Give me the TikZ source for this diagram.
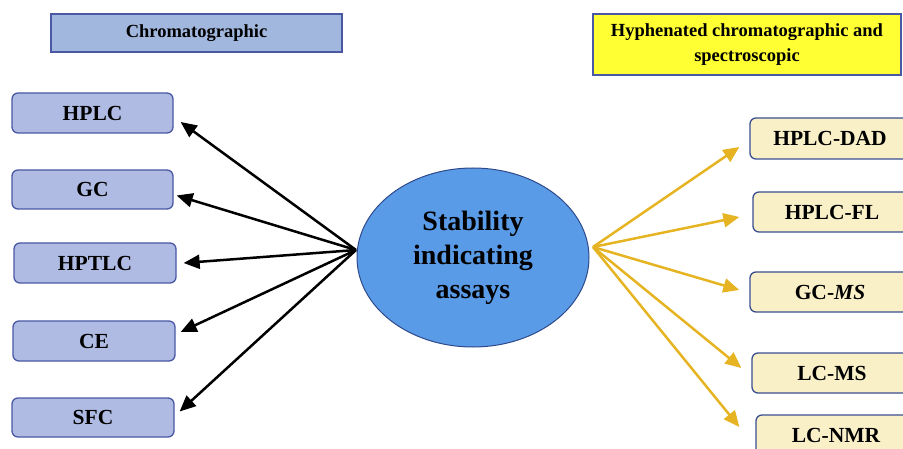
\documentclass[tikz,border=0pt]{standalone}
\usepackage{fontspec}
\setmainfont{Liberation Serif}
\usetikzlibrary{arrows.meta,shapes.geometric}
\definecolor{lbfill}{HTML}{AFBBE3}
\definecolor{hdfill}{HTML}{A2B7DE}
\definecolor{lbdraw}{HTML}{4A58A4}
\definecolor{rbfill}{HTML}{FAF0C8}
\definecolor{rbdraw}{HTML}{3A4F90}
\definecolor{yhead}{HTML}{FFFF33}
\definecolor{ellfill}{HTML}{5A9BE8}
\definecolor{elldraw}{HTML}{2E4A8A}
\definecolor{gold}{HTML}{E6B422}
\tikzset{
  lbox/.style={draw=lbdraw, fill=lbfill, line width=1.3pt, rounded corners=6pt,
    minimum width=161pt, minimum height=40pt, inner sep=0pt,
    font=\fontsize{21.5}{25}\selectfont\bfseries},
  rbox/.style={draw=rbdraw, fill=rbfill, line width=1.3pt, rounded corners=6pt,
    minimum width=160pt, minimum height=40pt, inner sep=0pt,
    font=\fontsize{21.5}{25}\selectfont\bfseries},
  hdr/.style={draw=lbdraw, line width=1.2pt, inner sep=0pt, align=center,
    font=\fontsize{18.5}{25}\selectfont\bfseries},
  blk/.style={line width=2.5pt, -{Triangle[length=16pt,width=14pt]}},
  gld/.style={gold, line width=2.5pt, -{Triangle[length=16pt,width=14pt]}},
}
\begin{document}
\begin{tikzpicture}[x=1pt,y=-1pt]
\useasboundingbox (0,0) rectangle (903,449);
\clip (0,0) rectangle (903,449);
% headers
\node[hdr, fill=hdfill, minimum width=291pt, minimum height=38pt] (hchrom) at (196.5,33) {Chromatographic};
\node[hdr, fill=yhead, minimum width=308pt, minimum height=61pt] (hhyph) at (747,44.5) {Hyphenated chromatographic and\\spectroscopic};
% center
\node[ellipse, draw=elldraw, fill=ellfill, line width=1pt, minimum width=232pt, minimum height=179pt,
  inner sep=0pt, align=center, font=\fontsize{28}{34}\selectfont\bfseries] (sia) at (473,257.5)
  {Stability\\indicating\\assays};
\coordinate (lsrc) at (356,250);
\coordinate (rsrc) at (593,247);
% left boxes
\node[lbox] (hplc) at (92.5,113) {HPLC};
\node[lbox, minimum height=39pt] (gc) at (92.5,189.5) {GC};
\node[lbox, minimum width=162pt] (hptlc) at (95,263) {HPTLC};
\node[lbox, minimum width=162pt] (ce) at (94,341) {CE};
\node[lbox, minimum width=162pt, minimum height=39pt] (sfc) at (93,417.5) {SFC};
% right boxes
\node[rbox, minimum height=41pt] (dad) at (830,138.5) {HPLC-DAD};
\node[rbox, minimum width=158pt] (fl) at (832,212) {HPLC-FL};
\node[rbox] (gcms) at (830,292) {GC-\textit{MS}};
\node[rbox] (lcms) at (832,373) {LC-MS};
\node[rbox] (nmr) at (836,435) {LC-NMR};
% arrows
\draw[blk] (lsrc) -- ([shift={(7,9)}]hplc.east);
\draw[blk] (lsrc) -- ([shift={(3,6)}]gc.east);
\draw[blk] (lsrc) -- ([shift={(7,0)}]hptlc.east);
\draw[blk] (lsrc) -- ([shift={(5,-9)}]ce.east);
\draw[blk] (lsrc) -- ([shift={(5,-6)}]sfc.east);
\draw[gld] (rsrc) -- ([shift={(-10,8.5)}]dad.west);
\draw[gld] (rsrc) -- ([shift={(-13,5)}]fl.west);
\draw[gld] (rsrc) -- ([shift={(-10,-2)}]gcms.west);
\draw[gld] (rsrc) -- ([shift={(-10,-5)}]lcms.west);
\draw[gld] (rsrc) -- ([shift={(-16,-8)}]nmr.west);
\end{tikzpicture}
\end{document}
